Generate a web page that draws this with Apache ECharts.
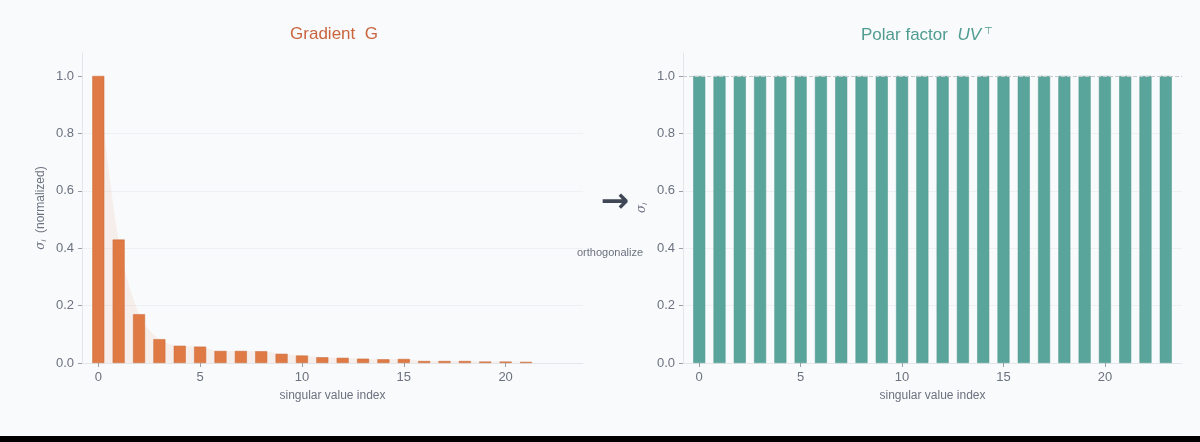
<!DOCTYPE html>
<html>
<head>
<meta charset="utf-8">
<script src="https://cdn.jsdelivr.net/npm/echarts@6/dist/echarts.min.js"></script>
<style>
  html, body { margin: 0; padding: 0; background: #000; }
  #main { width: 1200px; height: 436px; background: #f9fafb; }
</style>
</head>
<body>
<div id="main"></div>
<script>
// singular values of the gradient (normalized)
const gradIndex = [0, 1, 2, 3, 4, 5, 6, 7, 8, 9, 10, 11, 12, 13, 14, 15, 16, 17, 18, 19, 20, 21];
const gradSigma = [1.0, 0.43, 0.17, 0.083, 0.06, 0.057, 0.042, 0.042, 0.041, 0.032, 0.026, 0.02, 0.018, 0.015, 0.013, 0.014, 0.007, 0.007, 0.007, 0.005, 0.005, 0.004];
// after orthogonalization every singular value is 1
const polarIndex = [0, 1, 2, 3, 4, 5, 6, 7, 8, 9, 10, 11, 12, 13, 14, 15, 16, 17, 18, 19, 20, 21, 22, 23];
const polarSigma = [1, 1, 1, 1, 1, 1, 1, 1, 1, 1, 1, 1, 1, 1, 1, 1, 1, 1, 1, 1, 1, 1, 1, 1];
const xTicks = [0, 5, 10, 15, 20];
const yTicks = [0, 0.2, 0.4, 0.6, 0.8, 1.0];

const font = "Liberation Sans";
const orange = "#df7a45";
const teal = "#5aa59b";
const grey = "#6b7280";

const chart = echarts.init(document.getElementById("main"));

function xAxis(gridIndex) {
  return {
    type: "value",
    gridIndex: gridIndex,
    min: -0.8,
    max: 23.8,
    interval: 5,
    name: "singular value index",
    nameLocation: "middle",
    nameGap: 27,
    nameTextStyle: { color: grey, fontSize: 12, fontFamily: font },
    axisLine: { show: true, onZero: false, lineStyle: { color: "#e3e6eb" } },
    axisTick: { show: true, length: 4, lineStyle: { color: "#9aa0aa" }, customValues: xTicks },
    axisLabel: { color: grey, fontSize: 13, fontFamily: font, margin: 8, customValues: xTicks },
    splitLine: { show: false },
  };
}

function yAxis(gridIndex, name) {
  return {
    type: "value",
    gridIndex: gridIndex,
    min: 0,
    max: 1.08,
    interval: 0.2,
    name: name,
    nameLocation: "middle",
    nameGap: 34,
    nameRotate: 90,
    nameTextStyle: {
      color: grey, fontSize: 12, fontFamily: font,
      rich: {
        s: { fontStyle: "italic", fontSize: 12, color: grey, fontFamily: "DejaVu Serif" },
        i: { fontSize: 8, color: grey, fontStyle: "italic", verticalAlign: "bottom", padding: [6, 0, 0, 0] },
      },
    },
    axisLine: { show: true, onZero: false, lineStyle: { color: "#e3e6eb" } },
    axisTick: { show: true, length: 4, lineStyle: { color: "#9aa0aa" }, customValues: yTicks },
    axisLabel: {
      color: grey, fontSize: 13, fontFamily: font, margin: 8, customValues: yTicks,
      formatter: (v) => v.toFixed(1),
    },
    splitLine: { show: true, showMaxLine: false, lineStyle: { color: "#eef0f3" } },
  };
}

const gradData = gradIndex.map((x, i) => [x, gradSigma[i]]);
const polarData = polarIndex.map((x, i) => [x, polarSigma[i]]);

chart.setOption({
  backgroundColor: "#f9fafb",
  animation: false,
  title: [
    {
      text: "Gradient  G",
      left: 329, top: 21, textAlign: "center",
      textStyle: { color: "#c9643d", fontSize: 17, fontWeight: "normal", fontFamily: font },
    },
    {
      text: "Polar factor  {it|UV}{sup|⊤}",
      left: 922, top: 21, textAlign: "center",
      textStyle: {
        color: "#4f9c91", fontSize: 17, fontWeight: "normal", fontFamily: font,
        rich: {
          it: { fontStyle: "italic", fontSize: 17, color: "#4f9c91", fontFamily: font },
          sup: { fontSize: 10, color: "#4f9c91", verticalAlign: "top", padding: [0, 0, 9, 3] },
        },
      },
    },
  ],
  grid: [
    { left: 82, right: 617, top: 53, bottom: 73 },
    { left: 683, right: 18, top: 53, bottom: 73 },
  ],
  xAxis: [xAxis(0), xAxis(1)],
  yAxis: [yAxis(0, "{s|σ}{i|i}  (normalized)"), yAxis(1, "{s|σ}{i|i}")],
  series: [
    {
      type: "line",
      xAxisIndex: 0, yAxisIndex: 0,
      data: gradData,
      smooth: 0.35,
      symbol: "none",
      lineStyle: { width: 0, color: "rgba(0,0,0,0)" },
      areaStyle: { color: "rgba(223,122,69,0.13)" },
      z: 1,
    },
    {
      type: "bar",
      xAxisIndex: 0, yAxisIndex: 0,
      data: gradData,
      barWidth: 12,
      itemStyle: { color: orange, borderColor: "#c96a3a", borderWidth: 0.5 },
      z: 2,
    },
    {
      type: "bar",
      xAxisIndex: 1, yAxisIndex: 1,
      data: polarData,
      barWidth: 12,
      itemStyle: { color: teal, borderColor: "#4e968c", borderWidth: 0.5 },
      markLine: {
        silent: true,
        symbol: "none",
        label: { show: false },
        lineStyle: { type: "dashed", color: "#c5c9d0", width: 1 },
        data: [{ yAxis: 1 }],
      },
      z: 2,
    },
  ],
  graphic: [
    {
      type: "text",
      x: 615, y: 203,
      style: {
        text: "→", fill: "#3f4656", fontSize: 34, fontWeight: "bold", fontFamily: "DejaVu Sans",
        align: "center", verticalAlign: "middle",
      },
    },
    {
      type: "text",
      x: 610, y: 253,
      style: {
        text: "orthogonalize", fill: grey, fontSize: 11, fontFamily: font,
        align: "center", verticalAlign: "middle",
      },
    },
  ],
});
</script>
</body>
</html>
